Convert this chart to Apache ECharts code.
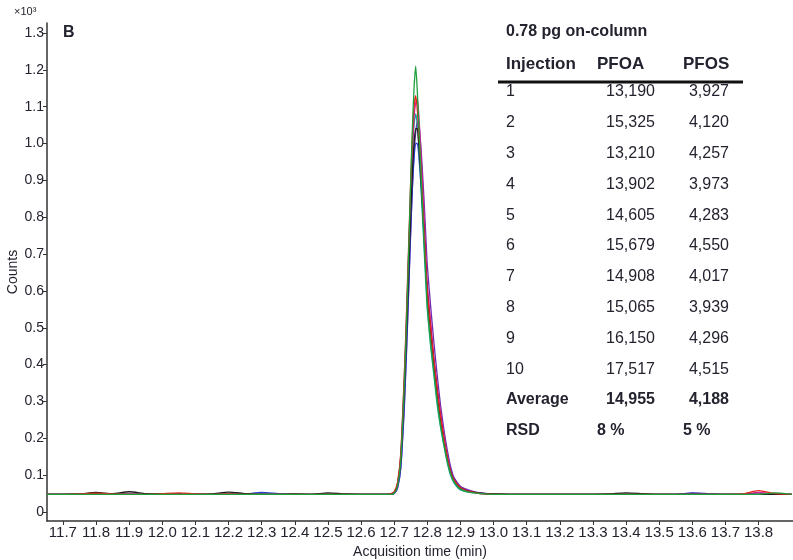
<!DOCTYPE html>
<html>
<head>
<meta charset="utf-8">
<script src="https://cdn.jsdelivr.net/npm/echarts@6/dist/echarts.min.js"></script>
<style>
  html, body { margin: 0; padding: 0; background: #fff; }
  #chart { width: 793px; height: 560px; }
</style>
</head>
<body>
<div id="chart"></div>
<script>
// Retention time grid (min) shared by all overlaid injections
const TIME = [
  11.65, 11.70, 11.75, 11.80, 11.85, 11.90, 11.95, 12.00, 12.05, 12.10, 12.15,
  12.20, 12.25, 12.30, 12.35, 12.40, 12.45, 12.50, 12.55, 12.60, 12.65,
  12.68, 12.69, 12.70, 12.71, 12.72,
  12.73, 12.735, 12.74, 12.745, 12.75, 12.755, 12.76, 12.765, 12.77, 12.775,
  12.78, 12.785, 12.79, 12.795, 12.80,
  12.81, 12.82, 12.83, 12.84, 12.85, 12.86, 12.87, 12.88, 12.90,
  12.93, 12.96, 13.00, 13.05, 13.10, 13.15, 13.20, 13.25, 13.30, 13.35, 13.40,
  13.45, 13.50, 13.55, 13.60, 13.65, 13.70, 13.75, 13.80, 13.85, 13.90
];

// Counts (x10^3) for each injection trace
const INJ_GREEN = [
  .048,.048,.048,.048,.048,.048,.048,.048,.048,.048,.048,.048,.048,.048,.048,.048,.048,.048,.048,.048,.048,
  .048,.048,.051,.070,.140,
  .330,.450,.590,.740,.900,1.040,1.150,1.210,1.140,1.040,.940,.840,.740,.650,.560,
  .460,.380,.300,.235,.185,.140,.105,.083,.062,
  .053,.050,.048,.048,.048,.048,.048,.048,.048,.048,.048,.048,.048,.048,.048,.048,.048,.048,.048,.052,.048
];
const INJ_RED = [
  .048,.048,.049,.051,.049,.048,.048,.050,.052,.049,.048,.049,.048,.048,.048,.048,.048,.048,.048,.048,.048,
  .048,.050,.055,.080,.160,
  .360,.480,.620,.760,.900,1.020,1.100,1.130,1.090,1.020,.950,.860,.770,.680,.600,
  .500,.410,.330,.260,.200,.150,.110,.088,.066,
  .055,.050,.048,.048,.048,.048,.048,.048,.048,.048,.048,.048,.048,.048,.048,.048,.048,.049,.058,.050,.048
];
const INJ_BLACK = [
  .048,.048,.049,.053,.050,.055,.050,.049,.048,.048,.049,.054,.050,.048,.048,.049,.048,.052,.049,.048,.048,
  .048,.049,.052,.072,.140,
  .320,.430,.550,.680,.810,.920,1.000,1.040,1.040,.990,.920,.840,.760,.670,.590,
  .490,.400,.320,.250,.195,.145,.110,.087,.065,
  .055,.051,.049,.048,.048,.048,.048,.048,.048,.049,.052,.050,.048,.048,.048,.048,.048,.048,.048,.048,.048
];
const INJ_BLUE = [
  .048,.048,.048,.048,.048,.048,.048,.048,.048,.048,.048,.048,.049,.053,.050,.048,.048,.048,.048,.048,.048,
  .048,.048,.050,.065,.120,
  .280,.390,.510,.640,.770,.880,.960,1.000,1.000,.960,.900,.830,.750,.670,.590,
  .500,.410,.330,.260,.200,.150,.115,.090,.067,
  .056,.051,.048,.048,.048,.048,.048,.048,.048,.048,.048,.048,.048,.048,.051,.049,.048,.048,.048,.048,.048
];
const INJ_MAGENTA = [
  .048,.048,.048,.049,.048,.049,.048,.048,.050,.049,.048,.048,.048,.048,.048,.048,.048,.048,.048,.048,.048,
  .048,.049,.052,.074,.150,
  .330,.450,.580,.720,.860,.980,1.070,1.110,1.120,1.070,.990,.900,.810,.710,.620,
  .520,.420,.340,.270,.210,.155,.115,.090,.067,
  .056,.051,.048,.048,.048,.048,.048,.048,.048,.048,.048,.048,.048,.048,.048,.048,.048,.048,.053,.049,.048
];
const INJ_TEAL = [
  .048,.048,.048,.048,.048,.048,.048,.048,.048,.048,.048,.048,.048,.050,.048,.048,.048,.048,.048,.048,.048,
  .048,.049,.053,.076,.155,
  .350,.470,.600,.740,.870,.980,1.050,1.080,1.050,.980,.900,.810,.720,.630,.550,
  .450,.370,.290,.230,.180,.135,.100,.080,.060,
  .053,.050,.048,.048,.048,.048,.048,.048,.048,.048,.048,.048,.048,.048,.048,.048,.048,.048,.048,.048,.048
];
const INJ_PURPLE = [
  .048,.048,.048,.048,.048,.048,.048,.048,.048,.048,.048,.048,.048,.048,.048,.048,.048,.048,.048,.048,.048,
  .048,.048,.050,.064,.120,
  .270,.380,.500,.630,.760,.880,.970,1.030,1.060,1.050,1.000,.930,.850,.760,.670,
  .560,.460,.370,.290,.225,.170,.125,.095,.070,
  .058,.052,.049,.048,.048,.048,.048,.048,.048,.048,.048,.048,.048,.048,.052,.050,.048,.048,.048,.048,.048
];

// Axis tick labels
const X_TICKS = [11.7, 11.8, 11.9, 12.0, 12.1, 12.2, 12.3, 12.4, 12.5, 12.6, 12.7,
                 12.8, 12.9, 13.0, 13.1, 13.2, 13.3, 13.4, 13.5, 13.6, 13.7, 13.8];
const Y_TICKS = [0, 0.1, 0.2, 0.3, 0.4, 0.5, 0.6, 0.7, 0.8, 0.9, 1.0, 1.1, 1.2, 1.3];

// Peak area table
const TABLE_TITLE = '0.78 pg on-column';
const TABLE_HEAD = ['Injection', 'PFOA', 'PFOS'];
const INJECTIONS = ['1', '2', '3', '4', '5', '6', '7', '8', '9', '10'];
const PFOA_AREA = [13190, 15325, 13210, 13902, 14605, 15679, 14908, 15065, 16150, 17517];
const PFOS_AREA = [3927, 4120, 4257, 3973, 4283, 4550, 4017, 3939, 4296, 4515];
const AVERAGE = [14955, 4188];
const RSD = ['8 %', '5 %'];

const TRACES = [
  { name: 'Injection 7', data: INJ_PURPLE, color: '#6b2fb0' },
  { name: 'Injection 4', data: INJ_BLUE, color: '#2b3fd6' },
  { name: 'Injection 6', data: INJ_TEAL, color: '#17a6a6' },
  { name: 'Injection 5', data: INJ_MAGENTA, color: '#d4209c' },
  { name: 'Injection 3', data: INJ_BLACK, color: '#1a1a1a' },
  { name: 'Injection 2', data: INJ_RED, color: '#e3231c' },
  { name: 'Injection 1', data: INJ_GREEN, color: '#1f9e3c' }
];

const TEXT = '#23232f';
const NARROW = '"Liberation Sans Narrow", "Liberation Sans", Arial, sans-serif';
const SANS = '"Liberation Sans", Arial, sans-serif';
const fmt = v => v.toLocaleString('en-US');

// Table text elements
const table = [];
const COL_LEFT = 506, COL_PFOA = 655, COL_PFOS = 729, PFOA_LEFT = 597, PFOS_LEFT = 683;
const ROW0 = 92, ROW_STEP = 30.8;
function txt(x, y, text, align, weight, size, font) {
  table.push({
    type: 'text', x: x, y: y, silent: true,
    style: { text: text, fill: TEXT, align: align, verticalAlign: 'middle',
             fontFamily: font || SANS, fontWeight: weight, fontSize: size }
  });
}
txt(COL_LEFT, 32, TABLE_TITLE, 'left', 'bold', 16);
txt(COL_LEFT, 64, TABLE_HEAD[0], 'left', 'bold', 17);
txt(PFOA_LEFT, 64, TABLE_HEAD[1], 'left', 'bold', 17);
txt(PFOS_LEFT, 64, TABLE_HEAD[2], 'left', 'bold', 17);
table.push({
  type: 'line', silent: true,
  shape: { x1: 498, y1: 82, x2: 743, y2: 82 },
  style: { stroke: '#111', lineWidth: 3 }
});
INJECTIONS.forEach((inj, i) => {
  const y = ROW0 + i * ROW_STEP;
  txt(COL_LEFT, y, inj, 'left', 'normal', 16);
  txt(COL_PFOA, y, fmt(PFOA_AREA[i]), 'right', 'normal', 16);
  txt(COL_PFOS, y, fmt(PFOS_AREA[i]), 'right', 'normal', 16);
});
{
  const y = ROW0 + 10 * ROW_STEP;
  txt(COL_LEFT, y, 'Average', 'left', 'bold', 16);
  txt(COL_PFOA, y, fmt(AVERAGE[0]), 'right', 'bold', 16);
  txt(COL_PFOS, y, fmt(AVERAGE[1]), 'right', 'bold', 16);
  const y2 = ROW0 + 11 * ROW_STEP;
  txt(COL_LEFT, y2, 'RSD', 'left', 'bold', 16);
  txt(PFOA_LEFT, y2, RSD[0], 'left', 'bold', 16);
  txt(PFOS_LEFT, y2, RSD[1], 'left', 'bold', 16);
}
// Panel letter and exponent marker
txt(63, 33, 'B', 'left', 'bold', 16);
txt(14, 12, '\u00d710\u00b3', 'left', 'normal', 11, NARROW);

const chart = echarts.init(document.getElementById('chart'), null, { renderer: 'canvas' });
chart.setOption({
  animation: false,
  backgroundColor: '#fff',
  grid: { left: 47, right: 0, top: 23, bottom: 39, containLabel: false, outerBoundsMode: 'none' },
  xAxis: {
    type: 'value', min: 11.652, max: 13.904,
    name: 'Acquisition time (min)', nameLocation: 'middle', nameGap: 20,
    nameTextStyle: { color: TEXT, fontFamily: NARROW, fontSize: 14 },
    axisLine: { show: true, onZero: false, lineStyle: { color: '#333', width: 1.5 } },
    axisTick: { show: true, inside: false, length: 4, customValues: X_TICKS, lineStyle: { color: '#333' } },
    axisLabel: { customValues: X_TICKS, color: TEXT, fontFamily: NARROW, fontSize: 15, margin: 4,
                 formatter: v => v.toFixed(1) },
    splitLine: { show: false }
  },
  yAxis: {
    type: 'value', min: -0.0244, max: 1.327,
    name: 'Counts', nameLocation: 'middle', nameGap: 27, nameRotate: 90, nameMoveOverlap: false,
    nameTextStyle: { color: TEXT, fontFamily: NARROW, fontSize: 14 },
    axisLine: { show: true, onZero: false, lineStyle: { color: '#333', width: 1.5 } },
    axisTick: { show: true, inside: false, length: 4, customValues: Y_TICKS, lineStyle: { color: '#333' } },
    axisLabel: { customValues: Y_TICKS, color: TEXT, fontFamily: NARROW, fontSize: 14, margin: 3,
                 formatter: v => (v === 0 ? '0' : v.toFixed(1)) },
    splitLine: { show: false }
  },
  series: TRACES.map(tr => ({
    type: 'line', name: tr.name,
    data: TIME.map((t, i) => [t, tr.data[i]]),
    showSymbol: false, smooth: 0.2,
    lineStyle: { color: tr.color, width: 1.3 },
    itemStyle: { color: tr.color },
    clip: true
  })),
  graphic: table
});
</script>
</body>
</html>
